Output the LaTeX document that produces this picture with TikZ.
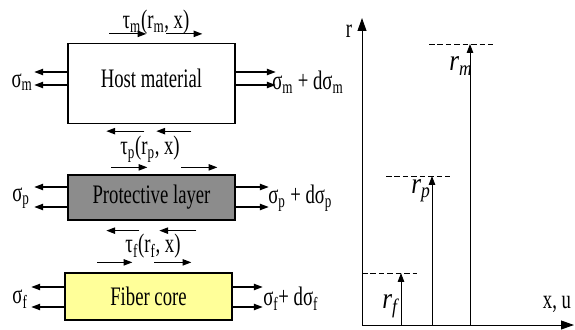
\documentclass[tikz,border=0pt]{standalone}
\usepackage{fontspec}
\setmainfont{Liberation Serif}[FakeStretch=0.7]
\newfontfamily\radiusfont{Liberation Serif}[FakeStretch=0.85]
\usetikzlibrary{arrows.meta,calc}
\definecolor{layergray}{RGB}{140,140,140}
\definecolor{coreyellow}{RGB}{255,255,153}
\begin{document}
\begin{tikzpicture}[
    x=0.025cm, y=-0.025cm,
    every node/.style={font=\fontsize{19}{22}\selectfont, inner sep=0pt},
    layer/.style={draw, line width=0.9pt, minimum width=4.175cm},
    force/.style={-{Triangle[length=2.2mm, width=1.6mm]}, line width=0.8pt},
    radius/.style={-{Triangle[length=2.2mm, width=1.6mm]}, line width=0.6pt},
    axis/.style={-{Triangle[length=3.2mm, width=2.2mm]}, line width=0.7pt},
    level/.style={line width=0.7pt, dash pattern=on 4pt off 2pt},
    rlabel/.style={font=\radiusfont\fontsize{21}{24}\selectfont}
]
\useasboundingbox (0,0) rectangle (575,330);

% left: the three layers
\node[layer, minimum height=2cm, text height=13pt, text depth=7pt] (host)
    at (151.5,83.5) {Host material};
\node[layer, fill=layergray, minimum height=1.125cm] (prot) at (151.5,197.5)
    {Protective layer};
\node[layer, fill=coreyellow, minimum height=1.175cm] (core) at (148.5,296.5)
    {Fiber core};

% shear labels
\node (taum) at (156,22) {τ\textsubscript{m}(r\textsubscript{m}, x)};
\node (taup) at (150,149) {τ\textsubscript{p}(r\textsubscript{p}, x)};
\node (tauf) at (153,246) {τ\textsubscript{f}(r\textsubscript{f}, x)};

% stress labels
\node (sigm) at (22,82) {σ\textsubscript{m}};
\node[anchor=west] (sigmd) at (272,82) {σ\textsubscript{m} + dσ\textsubscript{m}};
\node (sigp) at (21,198) {σ\textsubscript{p}};
\node[anchor=west] (sigpd) at (268,198) {σ\textsubscript{p} + dσ\textsubscript{p}};
\node (sigf) at (20,299) {σ\textsubscript{f}};
\node[anchor=west] (sigfd) at (263,299) {σ\textsubscript{f}+ dσ\textsubscript{f}};

% host material forces
\draw[force] ($(host.north west)+(42,-9)$) -- ++(37,0);
\draw[force] ($(host.north west)+(99,-9)$) -- ++(36,0);
\draw[force] ($(host.west)+(0,-11.5)$) -- ++(-33,0);
\draw[force] ($(host.west)+(0,1.5)$) -- ++(-33,0);
\draw[force] ($(host.east)+(0,-11.5)$) -- ++(40,0);
\draw[force] ($(host.east)+(0,1.5)$) -- ++(40,0);
\draw[force] ($(host.south west)+(77,7)$) -- ++(-38,0);
\draw[force] ($(host.south west)+(124,7)$) -- ++(-35,0);

% protective layer forces
\draw[force] ($(prot.north west)+(44,-7)$) -- ++(36,0);
\draw[force] ($(prot.north west)+(114,-7)$) -- ++(36,0);
\draw[force] ($(prot.west)+(0,-10.5)$) -- ++(-33,0);
\draw[force] ($(prot.west)+(0,9.5)$) -- ++(-33,0);
\draw[force] ($(prot.east)+(0,-10.5)$) -- ++(33,0);
\draw[force] ($(prot.east)+(0,9.5)$) -- ++(33,0);
\draw[force] ($(prot.south west)+(72,10)$) -- ++(-33,0);
\draw[force] ($(prot.south west)+(129,10)$) -- ++(-37,0);

% fiber core forces
\draw[force] ($(core.north west)+(33,-10)$) -- ++(35,0);
\draw[force] ($(core.north west)+(90,-10)$) -- ++(37,0);
\draw[force] ($(core.west)+(0,-9.5)$) -- ++(-33,0);
\draw[force] ($(core.west)+(0,10.5)$) -- ++(-33,0);
\draw[force] ($(core.east)+(0,-9.5)$) -- ++(30,0);
\draw[force] ($(core.east)+(0,10.5)$) -- ++(30,0);

% right: radii
\coordinate (origin) at (362,325);
\draw[axis] (origin) -- (362,18) coordinate (rtip);
\draw[axis] (origin) -- (574,325) coordinate (xtip);
\node (raxis) at (349,31) {r};
\node (xaxis) at (557,304) {x, u};

\coordinate (fbase) at (401,325);
\coordinate (pbase) at (432,325);
\coordinate (mbase) at (470,325);
\coordinate (ftop) at (401,273);
\coordinate (ptop) at (432,176);
\coordinate (mtop) at (470,44);
\draw[radius] (fbase) -- (ftop);
\draw[radius] (pbase) -- (ptop);
\draw[radius] (mbase) -- (mtop);
\draw[level] (362,273) -- (417,273);
\draw[level] (386,176) -- (450,176);
\draw[level] (429,44) -- (493,44);

\node[rlabel] (rf) at (391,306) {\textit{r}\textsubscript{\textit{f}}};
\node[rlabel] (rp) at (421,191) {\textit{r}\textsubscript{\textit{p}}};
\node[rlabel] (rm) at (461,66) {\textit{r}\textsubscript{\textit{m}}};
\end{tikzpicture}
\end{document}
